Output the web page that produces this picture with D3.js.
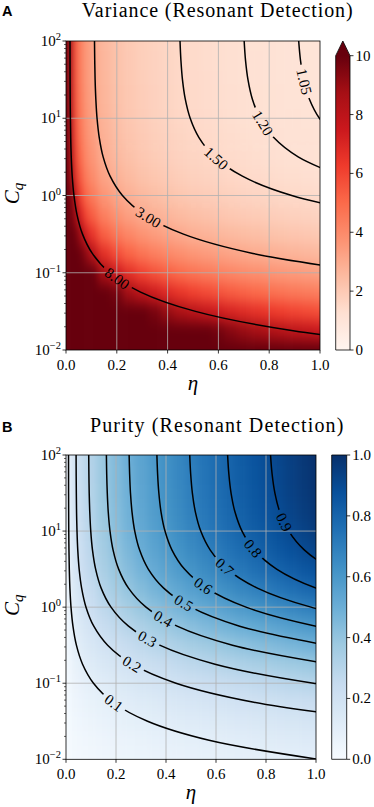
<!DOCTYPE html>
<html><head><meta charset="utf-8">
<script src="https://cdn.jsdelivr.net/npm/d3@7"></script>
<style>
html,body{margin:0;padding:0;background:#fff;}
svg{display:block;}
text{font-family:"Liberation Serif","Times New Roman",serif;fill:#000;}
</style></head><body>
<svg id="chart" width="374" height="807"></svg>
<script>
// ---------------- DATA ----------------
const etaGrid = [0, 0.01, 0.02, 0.035, 0.05, 0.075, 0.1, 0.15, 0.2, 0.25, 0.3, 0.35, 0.4, 0.45, 0.5, 0.55, 0.6, 0.65, 0.7, 0.75, 0.8, 0.85, 0.9, 0.95, 1.0];
const cqGrid = [0.01, 0.01778, 0.03162, 0.05623, 0.1, 0.1778, 0.3162, 0.5623, 1, 1.778, 3.162, 5.623, 10, 17.78, 31.62, 56.23, 100];

// variance, one row per cqGrid value (ascending), one column per etaGrid value
const varianceGrid = [
[1000, 100.5, 71.1, 53.7, 44.9, 36.7, 31.8, 25.9, 22.5, 20.1, 18.4, 17.0, 15.9, 15.0, 14.2, 13.5, 13.0, 12.5, 12.0, 11.6, 11.2, 10.9, 10.6, 10.3, 10.05],
[1000, 75.7, 53.5, 40.4, 33.8, 27.6, 23.9, 19.5, 16.9, 15.1, 13.8, 12.8, 12.0, 11.3, 10.7, 10.2, 9.77, 9.38, 9.04, 8.74, 8.46, 8.21, 7.97, 7.76, 7.57],
[1000, 57.1, 40.4, 30.5, 25.5, 20.9, 18.1, 14.7, 12.8, 11.4, 10.4, 9.65, 9.03, 8.52, 8.08, 7.70, 7.37, 7.08, 6.83, 6.60, 6.39, 6.20, 6.02, 5.86, 5.71],
[1000, 43.3, 30.6, 23.2, 19.4, 15.8, 13.7, 11.2, 9.69, 8.67, 7.91, 7.32, 6.85, 6.46, 6.13, 5.84, 5.60, 5.37, 5.18, 5.01, 4.85, 4.70, 4.57, 4.45, 4.33],
[1000, 33.2, 23.5, 17.7, 14.8, 12.1, 10.5, 8.56, 7.42, 6.63, 6.06, 5.61, 5.24, 4.95, 4.69, 4.47, 4.28, 4.11, 3.96, 3.83, 3.71, 3.60, 3.50, 3.40, 3.32],
[1000, 25.7, 18.2, 13.8, 11.5, 9.40, 8.14, 6.65, 5.76, 5.15, 4.70, 4.35, 4.07, 3.84, 3.64, 3.47, 3.32, 3.19, 3.08, 2.97, 2.88, 2.79, 2.71, 2.64, 2.57],
[1000, 20.4, 14.4, 10.9, 9.12, 7.45, 6.45, 5.27, 4.56, 4.08, 3.73, 3.45, 3.23, 3.04, 2.88, 2.75, 2.63, 2.53, 2.44, 2.36, 2.28, 2.21, 2.15, 2.09, 2.04],
[1000, 16.7, 11.8, 8.91, 7.45, 6.09, 5.27, 4.30, 3.73, 3.33, 3.04, 2.82, 2.64, 2.49, 2.36, 2.25, 2.15, 2.07, 1.99, 1.93, 1.86, 1.81, 1.76, 1.71, 1.67],
[1000, 14.1, 10.0, 7.56, 6.32, 5.16, 4.47, 3.65, 3.16, 2.83, 2.58, 2.39, 2.24, 2.11, 2.00, 1.91, 1.83, 1.75, 1.69, 1.63, 1.58, 1.53, 1.49, 1.45, 1.41],
[1000, 12.5, 8.84, 6.68, 5.59, 4.56, 3.95, 3.23, 2.80, 2.50, 2.28, 2.11, 1.98, 1.86, 1.77, 1.69, 1.61, 1.55, 1.49, 1.44, 1.40, 1.36, 1.32, 1.28, 1.25],
[1000, 11.5, 8.11, 6.13, 5.13, 4.19, 3.63, 2.96, 2.56, 2.29, 2.09, 1.94, 1.81, 1.71, 1.62, 1.55, 1.48, 1.42, 1.37, 1.32, 1.28, 1.24, 1.21, 1.18, 1.15],
[1000, 10.9, 7.67, 5.80, 4.85, 3.96, 3.43, 2.80, 2.43, 2.17, 1.98, 1.83, 1.72, 1.62, 1.53, 1.46, 1.40, 1.35, 1.30, 1.25, 1.21, 1.18, 1.14, 1.11, 1.09],
[1000, 10.5, 7.42, 5.61, 4.69, 3.83, 3.32, 2.71, 2.35, 2.10, 1.92, 1.77, 1.66, 1.56, 1.48, 1.41, 1.35, 1.30, 1.25, 1.21, 1.17, 1.14, 1.11, 1.08, 1.05],
[1000, 10.3, 7.27, 5.49, 4.60, 3.75, 3.25, 2.65, 2.30, 2.06, 1.88, 1.74, 1.63, 1.53, 1.45, 1.39, 1.33, 1.27, 1.23, 1.19, 1.15, 1.12, 1.08, 1.05, 1.03],
[1000, 10.2, 7.18, 5.43, 4.54, 3.71, 3.21, 2.62, 2.27, 2.03, 1.86, 1.72, 1.61, 1.51, 1.44, 1.37, 1.31, 1.26, 1.21, 1.17, 1.14, 1.10, 1.07, 1.04, 1.02],
[1000, 10.1, 7.13, 5.39, 4.51, 3.68, 3.19, 2.61, 2.26, 2.02, 1.84, 1.71, 1.60, 1.50, 1.43, 1.36, 1.30, 1.25, 1.21, 1.17, 1.13, 1.09, 1.06, 1.04, 1.01],
[1000, 10.05, 7.11, 5.37, 4.49, 3.67, 3.18, 2.59, 2.25, 2.01, 1.84, 1.70, 1.59, 1.50, 1.42, 1.35, 1.30, 1.25, 1.20, 1.16, 1.12, 1.09, 1.06, 1.03, 1.005]
];

// purity, same layout
const purityGrid = [
[0, 0.010, 0.014, 0.019, 0.022, 0.027, 0.031, 0.039, 0.044, 0.050, 0.054, 0.059, 0.063, 0.067, 0.070, 0.074, 0.077, 0.080, 0.083, 0.086, 0.089, 0.092, 0.094, 0.097, 0.100],
[0, 0.013, 0.019, 0.025, 0.030, 0.036, 0.042, 0.051, 0.059, 0.066, 0.072, 0.078, 0.084, 0.089, 0.093, 0.098, 0.102, 0.107, 0.111, 0.114, 0.118, 0.122, 0.125, 0.129, 0.132],
[0, 0.018, 0.025, 0.033, 0.039, 0.048, 0.055, 0.068, 0.078, 0.088, 0.096, 0.104, 0.111, 0.118, 0.124, 0.130, 0.136, 0.141, 0.147, 0.152, 0.157, 0.161, 0.166, 0.171, 0.175],
[0, 0.023, 0.033, 0.043, 0.052, 0.063, 0.073, 0.089, 0.103, 0.115, 0.126, 0.136, 0.146, 0.155, 0.163, 0.171, 0.179, 0.186, 0.193, 0.200, 0.206, 0.213, 0.219, 0.225, 0.231],
[0, 0.030, 0.043, 0.056, 0.067, 0.083, 0.095, 0.117, 0.135, 0.151, 0.165, 0.178, 0.191, 0.202, 0.213, 0.224, 0.234, 0.243, 0.252, 0.261, 0.270, 0.278, 0.286, 0.294, 0.302],
[0, 0.039, 0.055, 0.073, 0.087, 0.106, 0.123, 0.151, 0.174, 0.194, 0.213, 0.230, 0.246, 0.261, 0.275, 0.288, 0.301, 0.313, 0.325, 0.337, 0.348, 0.358, 0.369, 0.379, 0.389],
[0, 0.049, 0.069, 0.092, 0.110, 0.134, 0.155, 0.190, 0.219, 0.245, 0.268, 0.290, 0.310, 0.329, 0.347, 0.364, 0.380, 0.395, 0.410, 0.425, 0.438, 0.452, 0.465, 0.478, 0.490],
[0, 0.060, 0.085, 0.112, 0.134, 0.164, 0.190, 0.232, 0.268, 0.300, 0.329, 0.355, 0.380, 0.402, 0.424, 0.445, 0.465, 0.484, 0.502, 0.520, 0.537, 0.553, 0.569, 0.585, 0.600],
[0, 0.071, 0.100, 0.132, 0.158, 0.194, 0.224, 0.274, 0.316, 0.354, 0.387, 0.418, 0.447, 0.474, 0.500, 0.524, 0.548, 0.570, 0.592, 0.612, 0.632, 0.652, 0.671, 0.689, 0.707],
[0, 0.080, 0.113, 0.150, 0.179, 0.219, 0.253, 0.310, 0.358, 0.400, 0.438, 0.473, 0.506, 0.537, 0.566, 0.593, 0.620, 0.645, 0.669, 0.693, 0.716, 0.738, 0.759, 0.780, 0.800],
[0, 0.087, 0.123, 0.163, 0.195, 0.239, 0.276, 0.338, 0.390, 0.436, 0.477, 0.516, 0.551, 0.585, 0.616, 0.646, 0.675, 0.703, 0.729, 0.755, 0.780, 0.804, 0.827, 0.850, 0.872],
[0, 0.092, 0.130, 0.172, 0.206, 0.252, 0.291, 0.357, 0.412, 0.461, 0.505, 0.545, 0.583, 0.618, 0.652, 0.683, 0.714, 0.743, 0.771, 0.798, 0.824, 0.850, 0.874, 0.898, 0.921],
[0, 0.095, 0.135, 0.178, 0.213, 0.261, 0.302, 0.369, 0.426, 0.477, 0.522, 0.564, 0.603, 0.640, 0.674, 0.707, 0.739, 0.769, 0.798, 0.826, 0.853, 0.879, 0.905, 0.929, 0.954],
[0, 0.097, 0.138, 0.182, 0.218, 0.267, 0.308, 0.377, 0.435, 0.487, 0.533, 0.576, 0.615, 0.653, 0.688, 0.722, 0.754, 0.784, 0.814, 0.843, 0.870, 0.897, 0.923, 0.948, 0.973],
[0, 0.098, 0.139, 0.184, 0.220, 0.270, 0.311, 0.381, 0.440, 0.492, 0.539, 0.582, 0.623, 0.660, 0.696, 0.730, 0.763, 0.794, 0.824, 0.853, 0.881, 0.908, 0.934, 0.960, 0.985],
[0, 0.099, 0.140, 0.185, 0.222, 0.271, 0.313, 0.384, 0.443, 0.496, 0.543, 0.586, 0.627, 0.665, 0.701, 0.735, 0.768, 0.799, 0.829, 0.858, 0.887, 0.914, 0.940, 0.966, 0.991],
[0, 0.100, 0.141, 0.186, 0.222, 0.273, 0.315, 0.385, 0.445, 0.498, 0.545, 0.589, 0.629, 0.667, 0.704, 0.738, 0.771, 0.802, 0.833, 0.862, 0.890, 0.917, 0.944, 0.970, 0.995]
];

// contour lines: eta of each level at these Cq values (from the top of the plot downward)
const contourCq = [100, 56.23, 31.62, 17.78, 10, 5.623, 3.162, 1.778, 1, 0.5623, 0.3162, 0.1778, 0.1, 0.05623, 0.03162, 0.01778, 0.01];

const varianceLevels = ["1.05", "1.20", "1.50", "3.00", "8.00"];
const varianceContourEta = [
[0.9161, 0.9232, 0.9357, 0.958, 0.9977, 1.0683],
[0.7014, 0.7068, 0.7164, 0.7335, 0.7639, 0.8179, 0.914, 1.085],
[0.4489, 0.4524, 0.4585, 0.4694, 0.4889, 0.5235, 0.585, 0.6944, 0.8889, 1.2348],
[0.1122, 0.1131, 0.1146, 0.1174, 0.1222, 0.1309, 0.1462, 0.1736, 0.2222, 0.3087, 0.4625, 0.7359, 1.2222],
[0.0158, 0.0159, 0.0161, 0.0165, 0.0172, 0.0184, 0.0206, 0.0244, 0.0313, 0.0434, 0.065, 0.1035, 0.1719, 0.2935, 0.5097, 0.8943, 1.5781]
];

const purityLevels = ["0.1", "0.2", "0.3", "0.4", "0.5", "0.6", "0.7", "0.8", "0.9"];
const purityContourEta = [
[0.0101, 0.0102, 0.0103, 0.0106, 0.011, 0.0118, 0.0132, 0.0156, 0.02, 0.0278, 0.0416, 0.0662, 0.11, 0.1878, 0.3262, 0.5723, 1.01],
[0.0404, 0.0407, 0.0413, 0.0422, 0.044, 0.0471, 0.0526, 0.0625, 0.08, 0.1111, 0.1665, 0.2649, 0.44, 0.7513, 1.3049],
[0.0909, 0.0916, 0.0928, 0.0951, 0.099, 0.106, 0.1185, 0.1406, 0.18, 0.25, 0.3746, 0.5961, 0.99, 1.6905],
[0.1616, 0.1628, 0.1651, 0.169, 0.176, 0.1884, 0.2106, 0.25, 0.32, 0.4445, 0.666, 1.0597],
[0.2525, 0.2545, 0.2579, 0.2641, 0.275, 0.2945, 0.3291, 0.3906, 0.5, 0.6946, 1.0406],
[0.3636, 0.3664, 0.3714, 0.3802, 0.396, 0.424, 0.4738, 0.5624, 0.72, 1.0002, 1.4984],
[0.4949, 0.4987, 0.5055, 0.5176, 0.539, 0.5771, 0.6449, 0.7655, 0.98, 1.3613],
[0.6464, 0.6514, 0.6602, 0.676, 0.704, 0.7538, 0.8424, 0.9999, 1.28],
[0.8181, 0.8244, 0.8356, 0.8555, 0.891, 0.954, 1.0661, 1.2655]
];

const xTicks = [0, 0.2, 0.4, 0.6, 0.8, 1.0];
const yTicks = [0.01, 0.1, 1, 10, 100];
const varianceBarTicks = [0, 2, 4, 6, 8, 10];
const purityBarTicks = [0, 0.2, 0.4, 0.6, 0.8, 1.0];
const redsColors = ['#fff5f0','#fee0d2','#fcbba1','#fc9272','#fb6a4a','#ef3b2c','#cb181d','#a50f15','#67000d'];
const bluesColors = ['#f7fbff','#deebf7','#c6dbef','#9ecae1','#6baed6','#4292c6','#2171b5','#08519c','#08306b'];

// ---------------- LAYOUT ----------------
const varianceLabelAnchors = [[0.931, 29.7], [0.776, 8.68], [0.593, 3.06], [0.327, 0.543], [0.205, 0.0881]];
const purityLabelAnchors = [[0.188, 0.053], [0.268, 0.189], [0.324, 0.379], [0.388, 0.695], [0.468, 1.095], [0.548, 1.89], [0.636, 3.46], [0.748, 5.97], [0.872, 13.1]];

const panels = [
  { id: 'A', letter: 'A', letterY: 15.5, title: 'Variance (Resonant Detection)', titleX: 81.7, titleY: 16.5, titleW: 271,
    left: 66, right: 320, top: 41, bottom: 350,
    grid: varianceGrid, domain: [0, 10], colors: redsColors,
    levels: varianceLevels, contourEta: varianceContourEta, anchors: varianceLabelAnchors,
    cb: { left: 335.7, right: 350, top: 55.7, bottom: 350, ext: 14.7 },
    barTicks: varianceBarTicks, barFmt: d => String(d) },
  { id: 'B', letter: 'B', letterY: 431.7, title: 'Purity (Resonant Detection)', titleX: 90, titleY: 431.7, titleW: 253.3,
    left: 66, right: 316, top: 455, bottom: 759.3,
    grid: purityGrid, domain: [0, 1], colors: bluesColors,
    levels: purityLevels, contourEta: purityContourEta, anchors: purityLabelAnchors,
    cb: { left: 331.7, right: 346.7, top: 455, bottom: 759.3, ext: 0 },
    barTicks: purityBarTicks, barFmt: d => d.toFixed(1) }
];

const svg = d3.select('#chart');
const defs = svg.append('defs');

function supLabel(sel, t) {
  const e = Math.round(Math.log10(t));
  sel.append('tspan').text('10');
  sel.append('tspan').attr('font-size', 10.5).attr('dy', -6).text(String(e).replace('-', '\u2212'));
}

function drawPanel(p) {
  const x = d3.scaleLinear().domain([0, 1]).range([p.left, p.right]);
  const y = d3.scaleLog().domain([0.01, 100]).range([p.bottom, p.top]);
  const [dmin, dmax] = p.domain;
  const color = d3.scaleLinear()
    .domain(p.colors.map((c, i) => dmin + (dmax - dmin) * i / (p.colors.length - 1)))
    .range(p.colors).interpolate(d3.interpolateRgb).clamp(true);
  const g = svg.append('g');

  defs.append('clipPath').attr('id', p.id + 'clip').append('rect')
    .attr('x', p.left).attr('y', p.top).attr('width', p.right - p.left).attr('height', p.bottom - p.top);
  const filt = defs.append('filter').attr('id', p.id + 'blur').attr('filterUnits', 'userSpaceOnUse')
    .attr('x', p.left - 40).attr('y', p.top - 40).attr('width', p.right - p.left + 80).attr('height', p.bottom - p.top + 80)
    .attr('color-interpolation-filters', 'sRGB');
  filt.append('feGaussianBlur').attr('stdDeviation', '3.5 7');

  // heatmap cells
  const ext = 24, n = etaGrid.length, m = cqGrid.length;
  const xl = etaGrid.map((e, i) => i === 0 ? p.left - ext : x((etaGrid[i - 1] + e) / 2));
  const xr = etaGrid.map((e, i) => i === n - 1 ? p.right + ext : x((e + etaGrid[i + 1]) / 2));
  const yb = cqGrid.map((c, j) => j === 0 ? p.bottom + ext : y(Math.sqrt(cqGrid[j - 1] * c)));
  const yt = cqGrid.map((c, j) => j === m - 1 ? p.top - ext : y(Math.sqrt(c * cqGrid[j + 1])));
  const cells = [];
  p.grid.forEach((row, j) => row.forEach((v, i) => cells.push({ i, j, v })));
  g.append('g').attr('clip-path', `url(#${p.id}clip)`)
    .append('g').attr('filter', `url(#${p.id}blur)`)
    .selectAll('rect').data(cells).join('rect')
    .attr('x', d => xl[d.i]).attr('y', d => yt[d.j])
    .attr('width', d => xr[d.i] - xl[d.i] + 0.6).attr('height', d => yb[d.j] - yt[d.j] + 0.6)
    .attr('fill', d => color(d.v));

  // grid
  const gg = g.append('g').attr('stroke', '#b0b0b0').attr('stroke-width', 0.8);
  xTicks.filter(t => t > 0 && t < 1).forEach(t =>
    gg.append('line').attr('x1', x(t)).attr('x2', x(t)).attr('y1', p.top).attr('y2', p.bottom));
  yTicks.filter(t => t > 0.01 && t < 100).forEach(t =>
    gg.append('line').attr('x1', p.left).attr('x2', p.right).attr('y1', y(t)).attr('y2', y(t)));

  // contours
  const line = d3.line().x(d => x(d[0])).y(d => y(d[1])).curve(d3.curveCatmullRom.alpha(0.5));
  const mask = defs.append('mask').attr('id', p.id + 'mask').attr('maskUnits', 'userSpaceOnUse')
    .attr('x', 0).attr('y', 0).attr('width', 374).attr('height', 807);
  mask.append('rect').attr('x', 0).attr('y', 0).attr('width', 374).attr('height', 807).attr('fill', 'white');
  const lines = g.append('g').attr('clip-path', `url(#${p.id}clip)`).append('g').attr('mask', `url(#${p.id}mask)`);
  const labG = g.append('g');
  p.contourEta.forEach((etas, k) => {
    const pts = etas.map((e, i) => [e, contourCq[i]]);
    const path = lines.append('path').attr('d', line(pts)).attr('fill', 'none')
      .attr('stroke', '#000').attr('stroke-width', 1.5);
    const node = path.node(), L = node.getTotalLength();
    const ax = x(p.anchors[k][0]), ay = y(p.anchors[k][1]);
    let best = 0, bd = Infinity;
    for (let s = 0; s <= L; s += 0.5) {
      const q = node.getPointAtLength(s);
      const dd = (q.x - ax) ** 2 + (q.y - ay) ** 2;
      if (dd < bd) { bd = dd; best = s; }
    }
    const c = node.getPointAtLength(best);
    const a = node.getPointAtLength(Math.max(0, best - 7)), b = node.getPointAtLength(Math.min(L, best + 7));
    let ang = Math.atan2(b.y - a.y, b.x - a.x) * 180 / Math.PI;
    if (ang > 90) ang -= 180; if (ang < -90) ang += 180;
    const tr = `translate(${c.x},${c.y}) rotate(${ang})`;
    const t = labG.append('text').attr('transform', tr).attr('text-anchor', 'middle')
      .attr('dy', '0.34em').attr('font-size', 15).text(p.levels[k]);
    const w = t.node().getComputedTextLength();
    mask.append('rect').attr('transform', tr).attr('x', -w / 2 - 4).attr('y', -8)
      .attr('width', w + 8).attr('height', 16).attr('fill', 'black');
  });

  // spines and ticks
  const ag = g.append('g');
  ag.append('rect').attr('x', p.left).attr('y', p.top).attr('width', p.right - p.left).attr('height', p.bottom - p.top)
    .attr('fill', 'none').attr('stroke', '#000').attr('stroke-width', 0.8);
  xTicks.forEach(t => {
    ag.append('line').attr('x1', x(t)).attr('x2', x(t)).attr('y1', p.bottom).attr('y2', p.bottom + 3.5)
      .attr('stroke', '#000').attr('stroke-width', 0.8);
    ag.append('text').attr('x', x(t)).attr('y', p.bottom + 19.8).attr('text-anchor', 'middle')
      .attr('font-size', 15).text(t.toFixed(1));
  });
  yTicks.forEach(t => {
    ag.append('line').attr('x1', p.left - 3.5).attr('x2', p.left).attr('y1', y(t)).attr('y2', y(t))
      .attr('stroke', '#000').attr('stroke-width', 0.8);
    const tx = ag.append('text').attr('x', p.left - 5).attr('y', y(t) + 5).attr('text-anchor', 'end').attr('font-size', 15);
    supLabel(tx, t);
  });
  [0.01, 0.1, 1, 10].forEach(dec => d3.range(2, 10).forEach(k => {
    const v = dec * k;
    ag.append('line').attr('x1', p.left - 2).attr('x2', p.left).attr('y1', y(v)).attr('y2', y(v))
      .attr('stroke', '#000').attr('stroke-width', 0.6);
  }));

  // axis labels
  ag.append('text').attr('x', (p.left + p.right) / 2).attr('y', p.bottom + 40).attr('text-anchor', 'middle')
    .attr('font-size', 21).attr('font-style', 'italic').text('\u03b7');
  const yl = ag.append('text').attr('transform', `translate(19,${(p.top + p.bottom) / 2 - 2}) rotate(-90)`)
    .attr('text-anchor', 'middle').attr('font-size', 21).attr('font-style', 'italic');
  yl.append('tspan').text('C');
  yl.append('tspan').attr('font-size', 15).attr('dy', 4).text('q');

  // title and panel letter
  g.append('text').attr('x', p.titleX).attr('y', p.titleY).attr('font-size', 20)
    .attr('textLength', p.titleW).attr('lengthAdjust', 'spacing').text(p.title);
  g.append('text').attr('x', 2).attr('y', p.letterY).attr('font-size', 14.5).attr('font-weight', 'bold')
    .style('font-family', '"Liberation Sans", Arial, sans-serif').text(p.letter);

  // colorbar
  const cb = p.cb;
  const cy = d3.scaleLinear().domain(p.domain).range([cb.bottom, cb.top]);
  const grad = defs.append('linearGradient').attr('id', p.id + 'grad')
    .attr('x1', 0).attr('y1', 1).attr('x2', 0).attr('y2', 0);
  d3.range(0, 41).forEach(i => grad.append('stop').attr('offset', i / 40)
    .attr('stop-color', color(dmin + (dmax - dmin) * i / 40)));
  const cg = g.append('g');
  cg.append('rect').attr('x', cb.left).attr('y', cb.top).attr('width', cb.right - cb.left)
    .attr('height', cb.bottom - cb.top).attr('fill', `url(#${p.id}grad)`);
  const mid = (cb.left + cb.right) / 2;
  let outline;
  if (cb.ext > 0) {
    cg.append('path').attr('d', `M${cb.left},${cb.top + 0.3}L${mid},${cb.top - cb.ext}L${cb.right},${cb.top + 0.3}Z`)
      .attr('fill', color(dmax * 2));
    outline = `M${cb.left},${cb.bottom}L${cb.left},${cb.top}L${mid},${cb.top - cb.ext}L${cb.right},${cb.top}L${cb.right},${cb.bottom}Z`;
  } else {
    outline = `M${cb.left},${cb.bottom}L${cb.left},${cb.top}L${cb.right},${cb.top}L${cb.right},${cb.bottom}Z`;
  }
  cg.append('path').attr('d', outline).attr('fill', 'none').attr('stroke', '#000').attr('stroke-width', 0.8);
  p.barTicks.forEach(t => {
    cg.append('line').attr('x1', cb.right).attr('x2', cb.right + 3.5).attr('y1', cy(t)).attr('y2', cy(t))
      .attr('stroke', '#000').attr('stroke-width', 0.8);
    cg.append('text').attr('x', cb.right + 5.5).attr('y', cy(t) + 5).attr('font-size', 15).text(p.barFmt(t));
  });
}

panels.forEach(drawPanel);
</script>
</body></html>
